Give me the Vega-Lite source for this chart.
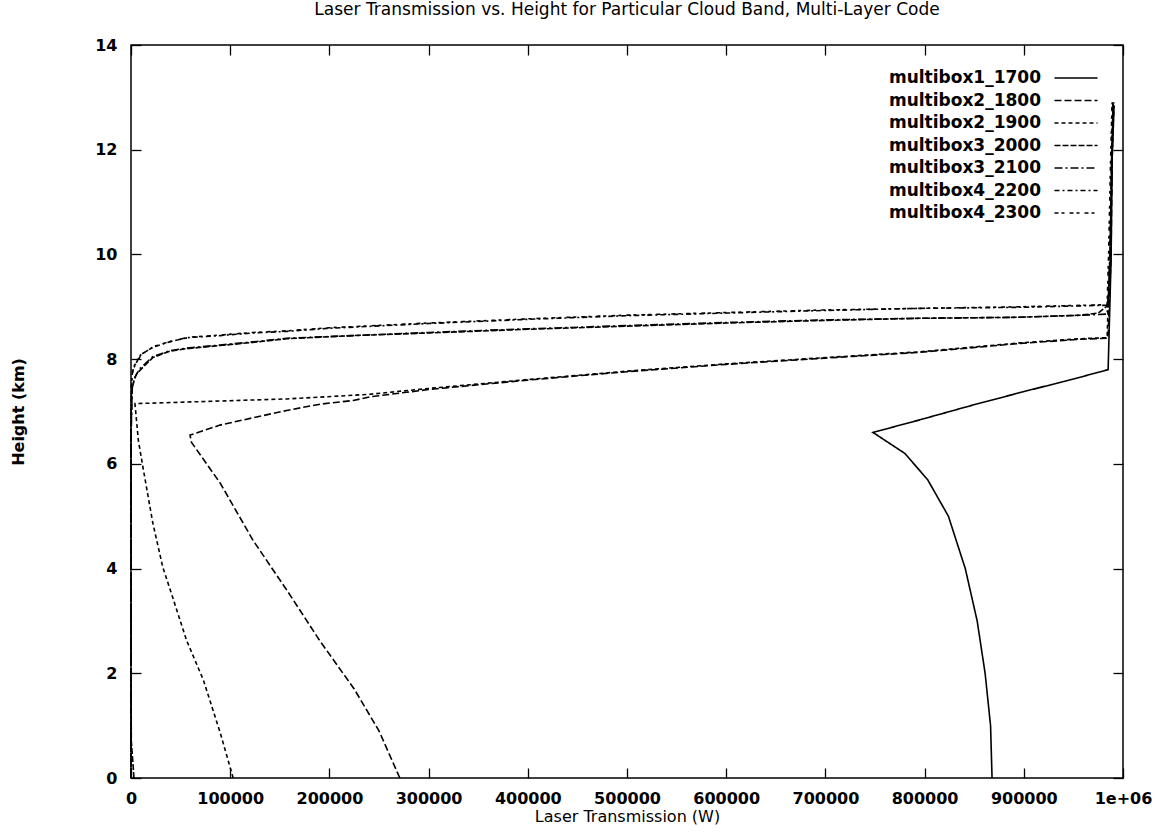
{
  "$schema": "https://vega.github.io/schema/vega-lite/v6.json",
  "autosize": {"type": "none"},
  "width": 992,
  "height": 733,
  "padding": {"left": 131, "top": 45, "right": 40, "bottom": 60},
  "background": "white",
  "config": {
    "font": "DejaVu Sans",
    "view": {"stroke": "black", "strokeWidth": 1.5},
    "axis": {"grid": false, "domain": false, "labelColor": "black", "titleColor": "black"}
  },
  "title": {"text": "Laser Transmission vs. Height for Particular Cloud Band, Multi-Layer Code", "font": "DejaVu Sans", "fontSize": 17, "fontWeight": "normal", "color": "black", "anchor": "middle", "offset": 18},
  "data": {"values": [
    {"s": "multibox1_1700", "i": 1, "x": 868000, "y": 0},
    {"s": "multibox1_1700", "i": 2, "x": 866500, "y": 1},
    {"s": "multibox1_1700", "i": 3, "x": 861000, "y": 2},
    {"s": "multibox1_1700", "i": 4, "x": 853000, "y": 3},
    {"s": "multibox1_1700", "i": 5, "x": 841000, "y": 4},
    {"s": "multibox1_1700", "i": 6, "x": 824000, "y": 5},
    {"s": "multibox1_1700", "i": 7, "x": 803000, "y": 5.7},
    {"s": "multibox1_1700", "i": 8, "x": 780000, "y": 6.2},
    {"s": "multibox1_1700", "i": 9, "x": 748000, "y": 6.6},
    {"s": "multibox1_1700", "i": 10, "x": 795000, "y": 6.84},
    {"s": "multibox1_1700", "i": 11, "x": 850000, "y": 7.13},
    {"s": "multibox1_1700", "i": 12, "x": 900000, "y": 7.38},
    {"s": "multibox1_1700", "i": 13, "x": 950000, "y": 7.62},
    {"s": "multibox1_1700", "i": 14, "x": 985000, "y": 7.8},
    {"s": "multibox1_1700", "i": 15, "x": 986000, "y": 8.5},
    {"s": "multibox1_1700", "i": 16, "x": 988000, "y": 9.9},
    {"s": "multibox1_1700", "i": 17, "x": 989000, "y": 11.8},
    {"s": "multibox1_1700", "i": 18, "x": 991000, "y": 12.85},

    {"s": "multibox2_1800", "i": 1, "x": 271000, "y": 0},
    {"s": "multibox2_1800", "i": 2, "x": 250000, "y": 0.9},
    {"s": "multibox2_1800", "i": 3, "x": 225000, "y": 1.7},
    {"s": "multibox2_1800", "i": 4, "x": 190000, "y": 2.63},
    {"s": "multibox2_1800", "i": 5, "x": 157000, "y": 3.59},
    {"s": "multibox2_1800", "i": 6, "x": 123000, "y": 4.54},
    {"s": "multibox2_1800", "i": 7, "x": 90000, "y": 5.63},
    {"s": "multibox2_1800", "i": 8, "x": 61000, "y": 6.41},
    {"s": "multibox2_1800", "i": 9, "x": 59500, "y": 6.55},
    {"s": "multibox2_1800", "i": 10, "x": 89700, "y": 6.74},
    {"s": "multibox2_1800", "i": 11, "x": 123000, "y": 6.88},
    {"s": "multibox2_1800", "i": 12, "x": 157000, "y": 7.02},
    {"s": "multibox2_1800", "i": 13, "x": 190500, "y": 7.14},
    {"s": "multibox2_1800", "i": 14, "x": 224000, "y": 7.21},
    {"s": "multibox2_1800", "i": 15, "x": 241000, "y": 7.28},
    {"s": "multibox2_1800", "i": 16, "x": 300000, "y": 7.42},
    {"s": "multibox2_1800", "i": 17, "x": 400000, "y": 7.6},
    {"s": "multibox2_1800", "i": 18, "x": 500000, "y": 7.76},
    {"s": "multibox2_1800", "i": 19, "x": 600000, "y": 7.9},
    {"s": "multibox2_1800", "i": 20, "x": 700000, "y": 8.02},
    {"s": "multibox2_1800", "i": 21, "x": 795000, "y": 8.13},
    {"s": "multibox2_1800", "i": 22, "x": 896000, "y": 8.3},
    {"s": "multibox2_1800", "i": 23, "x": 957000, "y": 8.38},
    {"s": "multibox2_1800", "i": 24, "x": 985000, "y": 8.4},
    {"s": "multibox2_1800", "i": 25, "x": 986000, "y": 9.0},
    {"s": "multibox2_1800", "i": 26, "x": 988000, "y": 10.0},
    {"s": "multibox2_1800", "i": 27, "x": 989000, "y": 11.8},
    {"s": "multibox2_1800", "i": 28, "x": 990000, "y": 12.9},

    {"s": "multibox2_1900", "i": 1, "x": 103000, "y": 0},
    {"s": "multibox2_1900", "i": 2, "x": 90000, "y": 0.86},
    {"s": "multibox2_1900", "i": 3, "x": 73000, "y": 1.87},
    {"s": "multibox2_1900", "i": 4, "x": 56000, "y": 2.63},
    {"s": "multibox2_1900", "i": 5, "x": 42000, "y": 3.45},
    {"s": "multibox2_1900", "i": 6, "x": 32000, "y": 4.03},
    {"s": "multibox2_1900", "i": 7, "x": 22000, "y": 4.87},
    {"s": "multibox2_1900", "i": 8, "x": 12000, "y": 5.94},
    {"s": "multibox2_1900", "i": 9, "x": 7400, "y": 6.45},
    {"s": "multibox2_1900", "i": 10, "x": 4000, "y": 7.15},
    {"s": "multibox2_1900", "i": 11, "x": 89700, "y": 7.2},
    {"s": "multibox2_1900", "i": 12, "x": 157000, "y": 7.24},
    {"s": "multibox2_1900", "i": 13, "x": 224000, "y": 7.31},
    {"s": "multibox2_1900", "i": 14, "x": 241000, "y": 7.33},
    {"s": "multibox2_1900", "i": 15, "x": 300000, "y": 7.44},
    {"s": "multibox2_1900", "i": 16, "x": 400000, "y": 7.61},
    {"s": "multibox2_1900", "i": 17, "x": 500000, "y": 7.77},
    {"s": "multibox2_1900", "i": 18, "x": 600000, "y": 7.91},
    {"s": "multibox2_1900", "i": 19, "x": 700000, "y": 8.03},
    {"s": "multibox2_1900", "i": 20, "x": 795000, "y": 8.14},
    {"s": "multibox2_1900", "i": 21, "x": 896000, "y": 8.31},
    {"s": "multibox2_1900", "i": 22, "x": 957000, "y": 8.39},
    {"s": "multibox2_1900", "i": 23, "x": 984000, "y": 8.41},
    {"s": "multibox2_1900", "i": 24, "x": 985000, "y": 9.0},
    {"s": "multibox2_1900", "i": 25, "x": 987000, "y": 10.0},
    {"s": "multibox2_1900", "i": 26, "x": 988500, "y": 11.8},
    {"s": "multibox2_1900", "i": 27, "x": 989500, "y": 12.9},

    {"s": "multibox3_2000", "i": 1, "x": 3000, "y": 0},
    {"s": "multibox3_2000", "i": 2, "x": 1500, "y": 0.4},
    {"s": "multibox3_2000", "i": 3, "x": 300, "y": 0.7},
    {"s": "multibox3_2000", "i": 4, "x": 0, "y": 3},
    {"s": "multibox3_2000", "i": 5, "x": 0, "y": 6.5},
    {"s": "multibox3_2000", "i": 6, "x": 1000, "y": 7.4},
    {"s": "multibox3_2000", "i": 7, "x": 3000, "y": 7.6},
    {"s": "multibox3_2000", "i": 8, "x": 6000, "y": 7.73},
    {"s": "multibox3_2000", "i": 9, "x": 22000, "y": 8.03},
    {"s": "multibox3_2000", "i": 10, "x": 39000, "y": 8.15},
    {"s": "multibox3_2000", "i": 11, "x": 56000, "y": 8.2},
    {"s": "multibox3_2000", "i": 12, "x": 90000, "y": 8.26},
    {"s": "multibox3_2000", "i": 13, "x": 123000, "y": 8.32},
    {"s": "multibox3_2000", "i": 14, "x": 157000, "y": 8.39},
    {"s": "multibox3_2000", "i": 15, "x": 224000, "y": 8.45},
    {"s": "multibox3_2000", "i": 16, "x": 300000, "y": 8.5},
    {"s": "multibox3_2000", "i": 17, "x": 400000, "y": 8.57},
    {"s": "multibox3_2000", "i": 18, "x": 500000, "y": 8.63},
    {"s": "multibox3_2000", "i": 19, "x": 600000, "y": 8.69},
    {"s": "multibox3_2000", "i": 20, "x": 700000, "y": 8.74},
    {"s": "multibox3_2000", "i": 21, "x": 795000, "y": 8.78},
    {"s": "multibox3_2000", "i": 22, "x": 896000, "y": 8.8},
    {"s": "multibox3_2000", "i": 23, "x": 957000, "y": 8.84},
    {"s": "multibox3_2000", "i": 24, "x": 975000, "y": 8.88},
    {"s": "multibox3_2000", "i": 25, "x": 985000, "y": 9.03},
    {"s": "multibox3_2000", "i": 26, "x": 987000, "y": 9.9},
    {"s": "multibox3_2000", "i": 27, "x": 988500, "y": 11.8},
    {"s": "multibox3_2000", "i": 28, "x": 990000, "y": 12.9},

    {"s": "multibox3_2100", "i": 1, "x": 0, "y": 0},
    {"s": "multibox3_2100", "i": 2, "x": 0, "y": 3},
    {"s": "multibox3_2100", "i": 3, "x": 0, "y": 6.5},
    {"s": "multibox3_2100", "i": 4, "x": 1200, "y": 7.45},
    {"s": "multibox3_2100", "i": 5, "x": 4000, "y": 7.66},
    {"s": "multibox3_2100", "i": 6, "x": 9000, "y": 7.82},
    {"s": "multibox3_2100", "i": 7, "x": 22000, "y": 8.05},
    {"s": "multibox3_2100", "i": 8, "x": 39000, "y": 8.16},
    {"s": "multibox3_2100", "i": 9, "x": 56000, "y": 8.21},
    {"s": "multibox3_2100", "i": 10, "x": 90000, "y": 8.27},
    {"s": "multibox3_2100", "i": 11, "x": 123000, "y": 8.33},
    {"s": "multibox3_2100", "i": 12, "x": 157000, "y": 8.4},
    {"s": "multibox3_2100", "i": 13, "x": 224000, "y": 8.45},
    {"s": "multibox3_2100", "i": 14, "x": 300000, "y": 8.51},
    {"s": "multibox3_2100", "i": 15, "x": 400000, "y": 8.58},
    {"s": "multibox3_2100", "i": 16, "x": 500000, "y": 8.64},
    {"s": "multibox3_2100", "i": 17, "x": 600000, "y": 8.7},
    {"s": "multibox3_2100", "i": 18, "x": 700000, "y": 8.75},
    {"s": "multibox3_2100", "i": 19, "x": 795000, "y": 8.78},
    {"s": "multibox3_2100", "i": 20, "x": 896000, "y": 8.8},
    {"s": "multibox3_2100", "i": 21, "x": 960000, "y": 8.84},
    {"s": "multibox3_2100", "i": 22, "x": 984000, "y": 8.86},
    {"s": "multibox3_2100", "i": 23, "x": 986000, "y": 9.5},
    {"s": "multibox3_2100", "i": 24, "x": 988000, "y": 11.0},
    {"s": "multibox3_2100", "i": 25, "x": 990000, "y": 12.8},

    {"s": "multibox4_2200", "i": 1, "x": 0, "y": 0},
    {"s": "multibox4_2200", "i": 2, "x": 0, "y": 3},
    {"s": "multibox4_2200", "i": 3, "x": 0, "y": 6.8},
    {"s": "multibox4_2200", "i": 4, "x": 500, "y": 7.5},
    {"s": "multibox4_2200", "i": 5, "x": 1500, "y": 7.78},
    {"s": "multibox4_2200", "i": 6, "x": 9000, "y": 8.07},
    {"s": "multibox4_2200", "i": 7, "x": 22000, "y": 8.23},
    {"s": "multibox4_2200", "i": 8, "x": 39000, "y": 8.33},
    {"s": "multibox4_2200", "i": 9, "x": 56000, "y": 8.41},
    {"s": "multibox4_2200", "i": 10, "x": 90000, "y": 8.45},
    {"s": "multibox4_2200", "i": 11, "x": 123000, "y": 8.5},
    {"s": "multibox4_2200", "i": 12, "x": 157000, "y": 8.53},
    {"s": "multibox4_2200", "i": 13, "x": 200000, "y": 8.59},
    {"s": "multibox4_2200", "i": 14, "x": 300000, "y": 8.68},
    {"s": "multibox4_2200", "i": 15, "x": 400000, "y": 8.76},
    {"s": "multibox4_2200", "i": 16, "x": 500000, "y": 8.83},
    {"s": "multibox4_2200", "i": 17, "x": 600000, "y": 8.88},
    {"s": "multibox4_2200", "i": 18, "x": 700000, "y": 8.93},
    {"s": "multibox4_2200", "i": 19, "x": 795000, "y": 8.97},
    {"s": "multibox4_2200", "i": 20, "x": 896000, "y": 8.99},
    {"s": "multibox4_2200", "i": 21, "x": 985000, "y": 9.03},
    {"s": "multibox4_2200", "i": 22, "x": 987000, "y": 9.9},
    {"s": "multibox4_2200", "i": 23, "x": 989000, "y": 11.8},
    {"s": "multibox4_2200", "i": 24, "x": 991000, "y": 12.9},

    {"s": "multibox4_2300", "i": 1, "x": 0, "y": 0},
    {"s": "multibox4_2300", "i": 2, "x": 0, "y": 3},
    {"s": "multibox4_2300", "i": 3, "x": 0, "y": 6.8},
    {"s": "multibox4_2300", "i": 4, "x": 700, "y": 7.6},
    {"s": "multibox4_2300", "i": 5, "x": 2500, "y": 7.85},
    {"s": "multibox4_2300", "i": 6, "x": 11000, "y": 8.1},
    {"s": "multibox4_2300", "i": 7, "x": 24000, "y": 8.25},
    {"s": "multibox4_2300", "i": 8, "x": 40000, "y": 8.34},
    {"s": "multibox4_2300", "i": 9, "x": 60000, "y": 8.42},
    {"s": "multibox4_2300", "i": 10, "x": 90000, "y": 8.46},
    {"s": "multibox4_2300", "i": 11, "x": 123000, "y": 8.51},
    {"s": "multibox4_2300", "i": 12, "x": 157000, "y": 8.54},
    {"s": "multibox4_2300", "i": 13, "x": 200000, "y": 8.6},
    {"s": "multibox4_2300", "i": 14, "x": 300000, "y": 8.69},
    {"s": "multibox4_2300", "i": 15, "x": 400000, "y": 8.77},
    {"s": "multibox4_2300", "i": 16, "x": 500000, "y": 8.84},
    {"s": "multibox4_2300", "i": 17, "x": 600000, "y": 8.89},
    {"s": "multibox4_2300", "i": 18, "x": 700000, "y": 8.94},
    {"s": "multibox4_2300", "i": 19, "x": 795000, "y": 8.97},
    {"s": "multibox4_2300", "i": 20, "x": 896000, "y": 9.0},
    {"s": "multibox4_2300", "i": 21, "x": 984000, "y": 9.04},
    {"s": "multibox4_2300", "i": 22, "x": 985500, "y": 10.0},
    {"s": "multibox4_2300", "i": 23, "x": 987500, "y": 11.8},
    {"s": "multibox4_2300", "i": 24, "x": 989000, "y": 12.9}
  ]},
  "layer": [
    {
      "mark": {"type": "line", "color": "black", "strokeWidth": 1.6},
      "encoding": {
        "x": {"field": "x", "type": "quantitative", "scale": {"domain": [0, 1000000], "nice": false, "zero": false},
          "axis": {"orient": "bottom", "values": [0,100000,200000,300000,400000,500000,600000,700000,800000,900000,1000000],
            "tickColor": "black", "tickSize": 10, "tickWidth": 1.3, "offset": -10,
            "labelExpr": "datum.value == 1000000 ? '1e+06' : format(datum.value, 'd')",
            "labelPadding": 12, "labelFont": "DejaVu Sans", "labelFontSize": 16, "labelFontWeight": "bold", "labelFlush": false, "labelOverlap": false,
            "title": "Laser Transmission (W)", "titleFont": "DejaVu Sans", "titleFontSize": 16, "titleFontWeight": "normal", "titlePadding": 2}},
        "y": {"field": "y", "type": "quantitative", "scale": {"domain": [0, 14], "nice": false},
          "axis": {"orient": "left", "values": [0,2,4,6,8,10,12,14],
            "tickColor": "black", "tickSize": 10, "tickWidth": 1.3, "offset": -10,
            "labelPadding": 14, "labelFont": "DejaVu Sans", "labelFontSize": 16, "labelFontWeight": "bold", "labelFlush": false,
            "title": "Height (km)", "titleFont": "DejaVu Sans", "titleFontSize": 16, "titleFontWeight": "bold", "titlePadding": 68}},
        "order": {"field": "i", "type": "quantitative"},
        "strokeDash": {"field": "s", "type": "nominal",
          "scale": {"domain": ["multibox1_1700","multibox2_1800","multibox2_1900","multibox3_2000","multibox3_2100","multibox4_2200","multibox4_2300"],
                    "range": [[1,0],[7,3],[4,3],[6,2],[8,3,2,3],[5,3,2,3],[4,3,3,5]]},
          "legend": {"title": null, "orient": "top-right", "offset": 22, "symbolType": "M-2.15,0H2.15", "symbolSize": 400, "symbolStrokeWidth": 1.6, "symbolStrokeColor": "black",
            "labelFont": "DejaVu Sans", "labelFontSize": 17, "labelFontWeight": "bold", "labelColor": "black", "labelAlign": "right", "labelOffset": -46, "labelLimit": 0, "rowPadding": 3.5, "padding": 0}}
      }
    },
    {
      "mark": {"type": "line", "strokeOpacity": 0},
      "encoding": {
        "x": {"field": "x", "type": "quantitative", "axis": {"orient": "top", "values": [0,100000,200000,300000,400000,500000,600000,700000,800000,900000,1000000], "tickColor": "black", "tickSize": 10, "tickWidth": 1.3, "offset": -10, "labels": false, "title": null}},
        "y": {"field": "y", "type": "quantitative", "axis": {"orient": "right", "values": [0,2,4,6,8,10,12,14], "tickColor": "black", "tickSize": 10, "tickWidth": 1.3, "offset": -10, "labels": false, "title": null}},
        "detail": {"field": "s"}
      }
    }
  ]
}
